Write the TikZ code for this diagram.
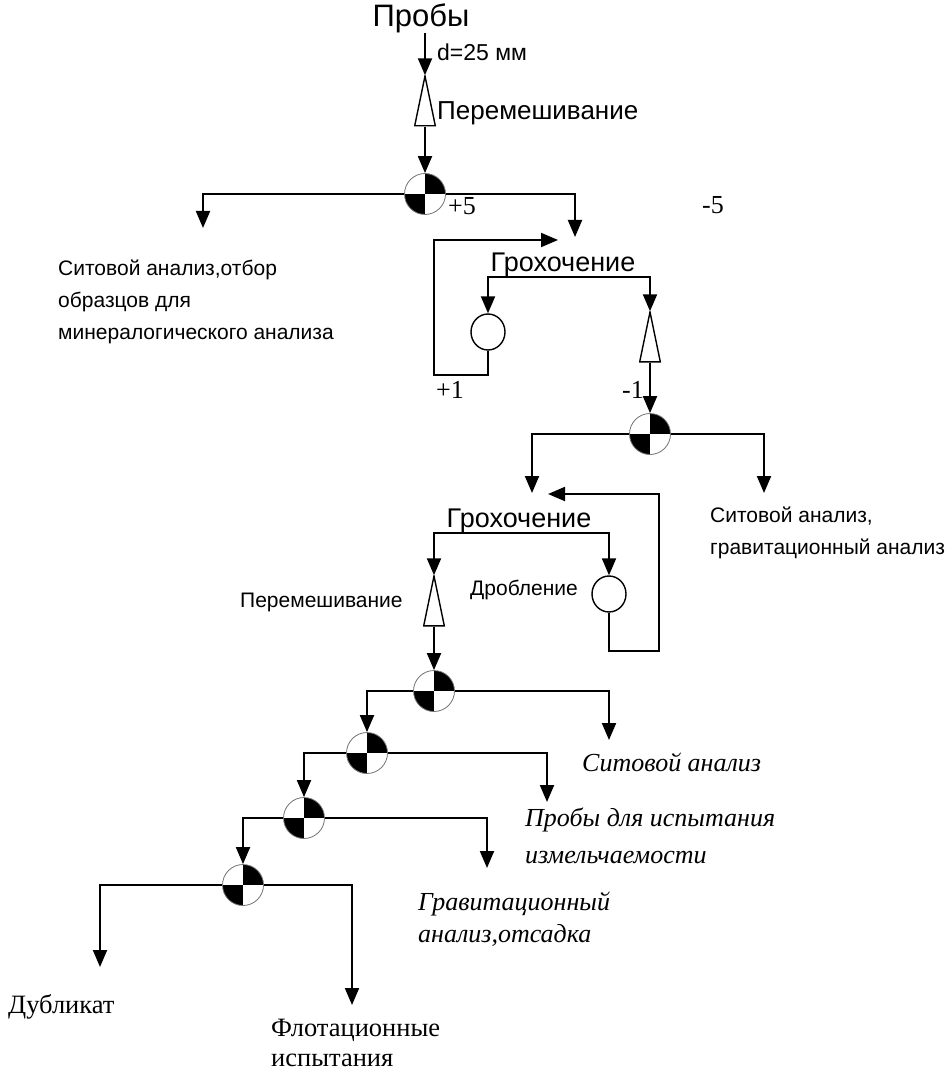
\documentclass[tikz,border=0pt]{standalone}
\usepackage{fontspec}
\setmainfont{Liberation Serif}
\setsansfont{Liberation Sans}
\usetikzlibrary{arrows.meta,positioning,shapes.geometric}
\tikzset{
  flow/.style={-{Triangle[width=14pt,length=17pt]}, line width=2pt},
  flowboth/.style={{Triangle[width=14pt,length=17pt]}-{Triangle[width=14pt,length=17pt]}, line width=2pt},
  divider/.style={circle, draw=black!55, line width=0.8pt, fill=white, minimum size=41pt, inner sep=0pt,
    path picture={
      \fill[black] (path picture bounding box.center) rectangle (path picture bounding box.north east);
      \fill[black] (path picture bounding box.center) rectangle (path picture bounding box.south west);
    }},
  crusher/.style={ellipse, draw, line width=1.4pt, minimum width=34pt, minimum height=36pt, inner sep=0pt},
  cone/.style={minimum width=22pt, minimum height=51pt, inner sep=0pt,
    path picture={
      \draw[line width=1.4pt] ([yshift=-0.5pt]path picture bounding box.north)
        -- ([xshift=0.7pt,yshift=0.7pt]path picture bounding box.south west)
        -- ([xshift=-0.7pt,yshift=0.7pt]path picture bounding box.south east) -- cycle;
    }},
  opname/.style={font=\sffamily\fontsize{27}{30}\selectfont, inner sep=0pt},
  smalltext/.style={font=\sffamily\fontsize{21}{32}\selectfont, align=left, inner sep=0pt, anchor=west},
  result/.style={font=\rmfamily\itshape\fontsize{26}{37}\selectfont, align=left, inner sep=0pt, anchor=west},
  product/.style={font=\rmfamily\fontsize{26.5}{31}\selectfont, align=left, inner sep=0pt, anchor=west},
  sizemark/.style={font=\rmfamily\fontsize{26}{30}\selectfont, inner sep=0pt}
}
\begin{document}
\begin{tikzpicture}[x=1pt, y=-1pt]
  \useasboundingbox (0,0) rectangle (949,1075);

  % Main line: sample, mixing, first division
  \node[font=\sffamily\fontsize{31}{33}\selectfont, inner sep=0pt] (probe) at (421,18) {Пробы};
  \node[cone] (k1) at (425,101) {};
  \node[divider] (d1) at (425,194) {};
  \node[smalltext, font=\sffamily\fontsize{23}{26}\selectfont] (dsize) at (437,52) {d=25 мм};
  \node[smalltext, font=\sffamily\fontsize{26}{30}\selectfont] (mix1) at (437,113) {Перемешивание};
  \draw[flow] (probe.south -| k1.north) -- (k1.north);
  \draw[flow] (k1.south) -- (d1.north);

  \coordinate (a1) at (203,228);
  \coordinate (g1in) at (575,237);
  \draw[flow] (d1.west) -| (a1);
  \draw[flow] (d1.east) -| (g1in);
  \node[sizemark] (p5) at (462,206) {+5};
  \node[sizemark] (m5) at (713,205) {-5};
  \node[smalltext] (sieve1) at (58,302) {Ситовой анализ,отбор\\образцов для\\минералогического анализа};

  % First screening with crushing loop
  \node[opname, anchor=south] (g1) at (563,277) {Грохочение};
  \node[crusher] (c1) at (488,332) {};
  \node[cone] (k2) at (650,337) {};
  \draw[flowboth] (c1.north) |- (g1.south) -| (k2.north);
  \coordinate (r1) at (434,375);
  \coordinate (r1end) at (558,240);
  \draw[flow] (c1.south) |- (r1) |- (r1end);
  \node[sizemark] (p1) at (450,390) {+1};
  \node[sizemark] (m1) at (633,390) {-1};

  \node[divider] (d2) at (650,434) {};
  \draw[flow] (k2.south) -- (d2.north);
  \coordinate (g2in) at (532,493);
  \coordinate (a2) at (764,493);
  \draw[flow] (d2.west) -| (g2in);
  \draw[flow] (d2.east) -| (a2);
  \node[smalltext] (sieve2) at (710,533) {Ситовой анализ,\\гравитационный анализ};

  % Second screening with crushing loop
  \node[opname, anchor=south] (g2) at (519,533) {Грохочение};
  \node[cone] (k3) at (434,601) {};
  \node[crusher] (c2) at (609,594) {};
  \draw[flowboth] (k3.north) |- (g2.south) -| (c2.north);
  \coordinate (r2) at (659,651);
  \coordinate (r2end) at (548,494);
  \draw[flow] (c2.south) |- (r2) |- (r2end);
  \node[smalltext] (crush) at (470,590) {Дробление};
  \node[smalltext] (mix2) at (240,602) {Перемешивание};

  % Division cascade
  \node[divider] (d3) at (434,691) {};
  \node[divider] (d4) at (367,753) {};
  \node[divider] (d5) at (304,818) {};
  \node[divider] (d6) at (243,885) {};
  \draw[flow] (k3.south) -- (d3.north);
  \foreach \i/\j in {3/4,4/5,5/6}
    \draw[flow] (d\i.west) -| (d\j.north);

  \coordinate (o3) at (609,740);
  \coordinate (o4) at (547,802);
  \coordinate (o5) at (487,868);
  \foreach \i in {3,4,5}
    \draw[flow] (d\i.east) -| (o\i);
  \coordinate (dup) at (100,967);
  \coordinate (flot) at (352,1005);
  \draw[flow] (d6.west) -| (dup);
  \draw[flow] (d6.east) -| (flot);

  \node[result] (res3) at (582,762) {Ситовой анализ};
  \node[result] (res4) at (525,836) {Пробы для испытания\\измельчаемости};
  \node[result, font=\rmfamily\itshape\fontsize{26}{32}\selectfont] (res5) at (418,919) {Гравитационный\\анализ,отсадка};
  \node[product] (res6) at (8,1007) {Дубликат};
  \node[product, font=\rmfamily\fontsize{26.5}{30}\selectfont] (res7) at (271,1043) {Флотационные\\испытания};
\end{tikzpicture}
\end{document}
